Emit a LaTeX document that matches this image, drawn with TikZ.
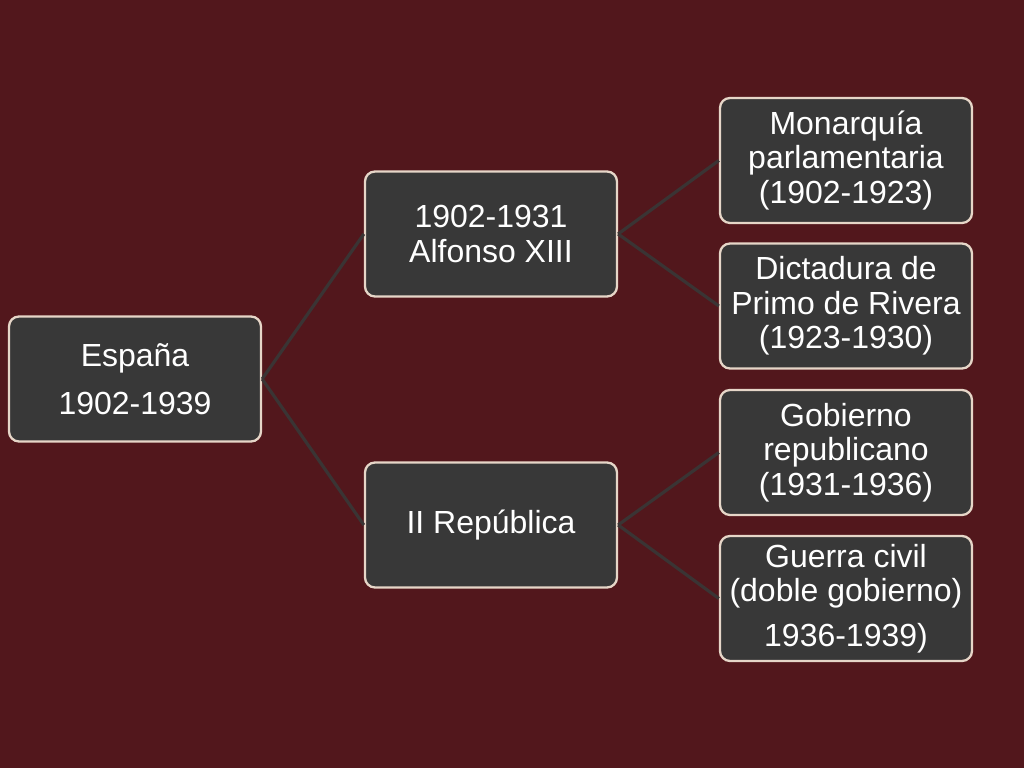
\documentclass[tikz,border=0pt]{standalone}
\usepackage{fontspec}
\setmainfont{Liberation Sans}
\definecolor{fondo}{HTML}{52171C}
\definecolor{caja}{HTML}{383838}
\definecolor{borde}{HTML}{E6D6C8}
\definecolor{linea}{HTML}{3A3434}
\tikzset{
  caja/.style={draw=borde, fill=caja, text=white, rounded corners=0.1cm,
    line width=0.65pt, minimum width=2.52cm, minimum height=1.25cm,
    inner sep=0pt, align=center, font=\fontsize{9.1}{9.8}\selectfont},
  rama/.style={linea, line width=0.9pt}
}
\begin{document}
\begin{tikzpicture}
%
% fondo de la diapositiva
\fill[fondo] (0,0) rectangle (10.24,7.68);
\useasboundingbox (0,0) rectangle (10.24,7.68);
%
% raiz, periodos, etapas
\node[caja] (1) at (1.35,3.89) {España\\[0.14cm]1902-1939};
\node[caja] (2) at (4.91,5.34) {1902-1931\\Alfonso XIII};
\node[caja] (3) at (4.91,2.43) {II República};
\node[caja] (4) at (8.46,6.075) {Monarquía\\parlamentaria\\(1902-1923)};
\node[caja] (5) at (8.46,4.62) {Dictadura de\\Primo de Rivera\\(1923-1930)};
\node[caja] (6) at (8.46,3.155) {Gobierno\\republicano\\(1931-1936)};
\node[caja] (7) at (8.46,1.695) {Guerra civil\\(doble gobierno)\\[0.1cm]1936-1939)};
%
% ramas
\draw[rama] (1.east) to (2.west);
\draw[rama] (1.east) to (3.west);
\draw[rama] (2.east) to (4.west);
\draw[rama] (2.east) to (5.west);
\draw[rama] (3.east) to (6.west);
\draw[rama] (3.east) to (7.west);
%
\end{tikzpicture}
\end{document}
